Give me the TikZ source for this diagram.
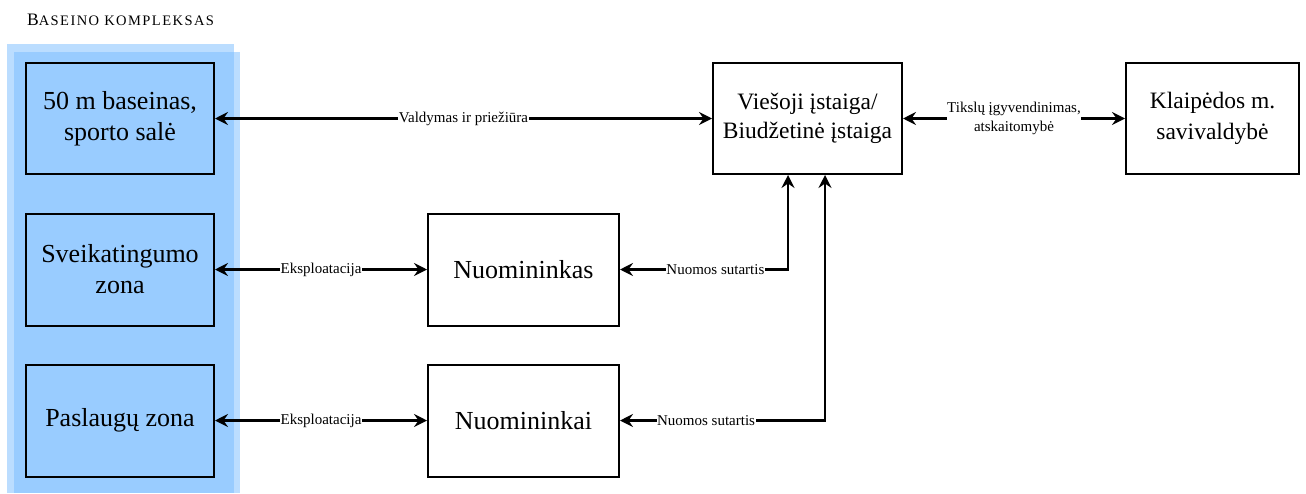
\documentclass[tikz,border=0pt]{standalone}
\usepackage{fontspec}
\setmainfont{Liberation Serif}
\newfontfamily\tnr{Liberation Serif}
\usepackage{tikz}
\usetikzlibrary{arrows.meta,positioning}
\usepackage{xcolor}
\definecolor{pool}{RGB}{119,187,255}

\begin{document}
\begin{tikzpicture}[x=1pt,y=-1pt,line width=2.3pt,font=\tnr,
  >={Stealth[length=13pt,width=13pt,inset=4.5pt]},
  box/.style={draw,line width=2pt,align=center,inner sep=0pt,minimum width=188pt,minimum height=111pt,font=\tnr\fontsize{26}{31}\selectfont},
  lbl/.style={fill=white,inner sep=0.5pt,font=\tnr\fontsize{15}{18}\selectfont}]
\useasboundingbox (0,0) rectangle (1306,493);
\fill[pool,opacity=.5] (7,44) rectangle (234,493);
\fill[pool,opacity=.5] (14,52) rectangle (240,493);
\node[anchor=base west,inner sep=0pt] (title) at (26,25) {{\fontsize{17.5}{20}\selectfont B}{\fontsize{14.5}{16}\selectfont\addfontfeature{LetterSpace=10}ASEINO KOMPLEKSAS}};
\node[box] (bas) at (120,118.5) {50 m baseinas,\\ sporto salė};
\node[box,minimum height=112pt] (sve) at (120,269.5) {Sveikatingumo\\ zona};
\node[box,minimum height=112pt] (pas) at (120,420.5) {Paslaugų zona};
\node[box,minimum width=191pt,minimum height=112pt] (nas) at (523.5,269.5) {Nuomininkas};
\node[box,minimum width=191pt,minimum height=112pt] (nai) at (523.5,420.5) {Nuomininkai};
\node[box,minimum width=189pt,font=\tnr\fontsize{23.5}{29}\selectfont] (vi) at (807.5,118.5) {Viešoji įstaiga/\\ Biudžetinė įstaiga};
\node[box,minimum width=173pt,font=\tnr\fontsize{23.5}{31}\selectfont] (kl) at (1212.5,118.5) {Klaipėdos m.\\ savivaldybė};
\draw[<->] (bas) -- (vi) node[lbl,midway]{Valdymas ir priežiūra};
\draw[<->] (sve) -- (nas) node[lbl,midway]{Eksploatacija};
\draw[<->] (pas) -- (nai) node[lbl,midway]{Eksploatacija};
\draw[<->] (vi) -- (kl) node[lbl,midway,align=center,font=\tnr\fontsize{15}{19}\selectfont]{Tikslų įgyvendinimas,\\ atskaitomybė};
\draw[<->] ([xshift=-19.5pt]vi.south) |- (nas) node[lbl,pos=.716]{Nuomos sutartis};
\draw[<->] ([xshift=17.5pt]vi.south) |- (nai) node[lbl,pos=.79]{Nuomos sutartis};
\end{tikzpicture}
\end{document}
